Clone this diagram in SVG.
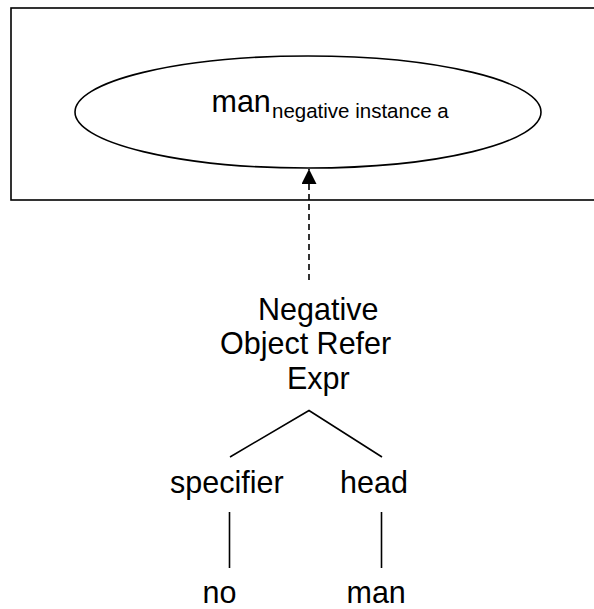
<svg xmlns="http://www.w3.org/2000/svg" width="594" height="609" viewBox="0 0 594 609">
  <style>
    .txt { font-family: "Liberation Sans", Arial, Helvetica, sans-serif; font-size: 30.5px; fill: #000; }
    .sub { font-size: 20.5px; }
    .shape { fill: none; stroke: #000; stroke-width: 1.6; }
    .edge { fill: none; stroke: #000; stroke-width: 1.6; }
    .dash { stroke-dasharray: 6 4; }
  </style>
  <defs>
    <marker id="arrowhead" markerUnits="userSpaceOnUse" markerWidth="16" markerHeight="16" refX="15" refY="7.5" orient="auto">
      <path d="M0,0 L15,7.5 L0,15 Z" fill="#000"/>
    </marker>
  </defs>

  <rect width="594" height="609" fill="#fff"/>

  <!-- Frame holding the referent -->
  <g id="frame">
    <rect class="shape" x="11" y="8" width="600" height="192" stroke-width="2"/>
  </g>

  <!-- Referent ellipse -->
  <g id="referent">
    <ellipse class="shape" cx="308" cy="112" rx="233" ry="56"/>
    <text class="txt" x="211.5" y="112">man</text>
    <text class="txt sub" x="272" y="117.5">negative instance a</text>
  </g>

  <!-- Expression root -->
  <g id="expr">
    <text class="txt" x="258" y="319.5">Negative</text>
    <text class="txt" x="220" y="354">Object Refer</text>
    <text class="txt" x="287" y="388.5">Expr</text>
  </g>

  <g id="specifier">
    <text class="txt" x="170" y="493">specifier</text>
  </g>
  <g id="head">
    <text class="txt" x="340" y="493">head</text>
  </g>
  <g id="no">
    <text class="txt" x="202.5" y="603">no</text>
  </g>
  <g id="man">
    <text class="txt" x="346.5" y="603">man</text>
  </g>

  <!-- Connectors -->
  <g id="connectors">
    <line class="edge dash" x1="309" y1="280" x2="309" y2="169" marker-end="url(#arrowhead)"/>
    <polyline class="edge" points="230,457 309,410.5 382,457"/>
    <line class="edge" x1="229.5" y1="512" x2="229.5" y2="568"/>
    <line class="edge" x1="381.5" y1="512" x2="381.5" y2="568"/>
  </g>
</svg>
